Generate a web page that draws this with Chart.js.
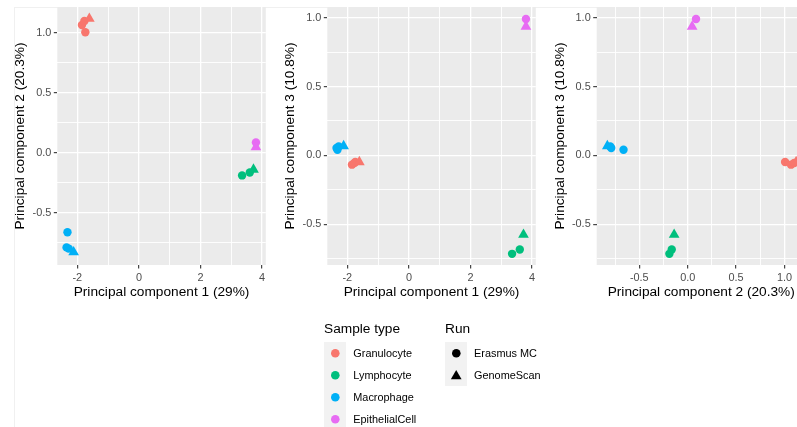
<!DOCTYPE html>
<html>
<head>
<meta charset="utf-8">
<script src="https://cdn.jsdelivr.net/npm/chart.js@4"></script>
<style>
html,body{margin:0;padding:0;width:797px;height:427px;overflow:hidden;background:#fff;position:relative;font-family:"Liberation Sans",Arial,sans-serif;}
.frame{position:absolute;left:14px;top:7px;width:800px;height:430px;border-left:1px solid #F0F0F0;border-top:1px solid #F0F0F0;box-sizing:border-box;}
canvas{position:absolute;top:0;}
.lt{position:absolute;font-size:13.7px;line-height:16px;color:#000;white-space:nowrap;}
.lab{position:absolute;font-size:10.9px;line-height:14px;color:#000;white-space:nowrap;}
.kb{position:absolute;background:#F2F2F2;}
svg.sym{position:absolute;overflow:visible;}
</style>
</head>
<body>
<div class="frame"></div>
<canvas id="p1" width="272" height="305" style="left:0px"></canvas>
<canvas id="p2" width="272" height="305" style="left:270px"></canvas>
<canvas id="p3" width="272" height="305" style="left:540px"></canvas>
<div id="legend"></div>
<script>
// ---- data ----
const categories = ['Granulocyte', 'Lymphocyte', 'Macrophage', 'EpithelialCell'];
const runs = ['Erasmus MC', 'GenomeScan'];
const sampleType = ['Granulocyte','Granulocyte','Granulocyte','Granulocyte',
                    'Lymphocyte','Lymphocyte','Lymphocyte',
                    'Macrophage','Macrophage','Macrophage','Macrophage',
                    'EpithelialCell','EpithelialCell'];
const sampleRun = ['Erasmus MC','Erasmus MC','Erasmus MC','GenomeScan',
                   'Erasmus MC','Erasmus MC','GenomeScan',
                   'Erasmus MC','Erasmus MC','Erasmus MC','GenomeScan',
                   'Erasmus MC','GenomeScan'];
const pc1 = [-1.74, -1.85, -1.77, -1.61,  3.35, 3.60, 3.72,  -2.32, -2.35, -2.28, -2.12,  3.80, 3.80];
const pc2 = [1.006, 1.067, 1.10, 1.12,  -0.189, -0.165, -0.14,  -0.663, -0.79, -0.80, -0.83,  0.086, 0.046];
const pc3 = [-0.048, -0.067, -0.055, -0.048,  -0.714, -0.683, -0.575,  0.041, 0.054, 0.065, 0.068,  0.99, 0.935];

const pc1Ticks = [-2, 0, 2, 4];
const pc1TickLabels = ['-2', '0', '2', '4'];
const pc1Minor = [-1, 1, 3];
const pcSmallTicks = [-0.5, 0, 0.5, 1.0];
const pcSmallTickLabels = ['-0.5', '0.0', '0.5', '1.0'];
const pcSmallMinor = [-0.75, -0.25, 0.25, 0.75];

const titlePC1 = 'Principal component 1 (29%)';
const titlePC2 = 'Principal component 2 (20.3%)';
const titlePC3 = 'Principal component 3 (10.8%)';

// ---- styles ----
const FONT = '"Liberation Sans", Arial, sans-serif';
const PALETTE = ['#F8766D', '#00BF7D', '#00B0F6', '#E76BF3'];
const SHAPES = ['circle', 'triangle'];
const RADII = [4.2, 6.2];

const bgPlugin = {
  id: 'panelBg',
  beforeDraw(chart) {
    const {ctx, chartArea: a} = chart;
    ctx.save();
    ctx.fillStyle = '#EBEBEB';
    ctx.fillRect(a.left, a.top, a.right - a.left, a.bottom - a.top);
    ctx.restore();
  }
};

function axis(pos, min, max, major, labels, minor, title, size) {
  const all = major.concat(minor).sort((a, b) => a - b);
  const isMajor = v => major.some(m => Math.abs(m - v) < 1e-9);
  return {
    type: 'linear', position: pos, min: min, max: max,
    afterBuildTicks: s => { s.ticks = all.map(v => ({value: v})); },
    afterFit: s => {
      if (pos === 'left') s.width = size; else s.height = size;
      s.paddingLeft = 0; s.paddingRight = 0; s.paddingTop = 0; s.paddingBottom = 0;
    },
    grid: {
      color: '#FFFFFF',
      lineWidth: c => (c.tick && isMajor(c.tick.value)) ? 1.3 : 0.9,
      drawTicks: true, tickLength: 3.5, tickWidth: 1.1,
      tickColor: c => (c.tick && isMajor(c.tick.value)) ? '#333333' : 'rgba(0,0,0,0)'
    },
    border: {display: false},
    ticks: {
      autoSkip: false, maxRotation: 0, minRotation: 0, padding: 2.5,
      color: '#4D4D4D', font: {family: FONT, size: 10.9},
      callback: v => { const i = major.findIndex(m => Math.abs(m - v) < 1e-9); return i < 0 ? '' : labels[i]; }
    },
    title: {
      display: true, text: title, color: '#000000',
      font: {family: FONT, size: 13.7, lineHeight: 1.2},
      padding: pos === 'left' ? {top: 11.8, bottom: 0} : {top: 0, bottom: 4.8}
    }
  };
}

function datasets(xv, yv) {
  return categories.map((cat, ci) => {
    const idx = sampleType.map((t, i) => t === cat ? i : -1).filter(i => i >= 0);
    return {
      label: cat,
      data: idx.map(i => ({x: xv[i], y: yv[i]})),
      pointStyle: idx.map(i => SHAPES[runs.indexOf(sampleRun[i])]),
      pointRadius: idx.map(i => RADII[runs.indexOf(sampleRun[i])]),
      backgroundColor: PALETTE[ci],
      borderColor: PALETTE[ci],
      borderWidth: 0,
      clip: false
    };
  });
}

function panel(id, xv, yv, xs, ys, padRight) {
  new Chart(document.getElementById(id), {
    type: 'scatter',
    data: {datasets: datasets(xv, yv)},
    options: {
      responsive: false, animation: false, devicePixelRatio: 1,
      layout: {padding: {top: 7, left: 0, right: padRight, bottom: 0}},
      plugins: {legend: {display: false}, tooltip: {enabled: false}},
      scales: {x: xs, y: ys}
    },
    plugins: [bgPlugin]
  });
}

panel('p1', pc1, pc2,
  axis('bottom', -2.65, 4.12, pc1Ticks, pc1TickLabels, pc1Minor, titlePC1, 40),
  axis('left', -0.937, 1.217, pcSmallTicks, pcSmallTickLabels, pcSmallMinor, titlePC2, 57.3), 2.2);
panel('p2', pc1, pc3,
  axis('bottom', -2.65, 4.12, pc1Ticks, pc1TickLabels, pc1Minor, titlePC1, 40),
  axis('left', -0.795, 1.077, pcSmallTicks, pcSmallTickLabels, pcSmallMinor, titlePC3, 57.3), 2.5);
panel('p3', pc2, pc3,
  axis('bottom', -0.94, 1.22, pcSmallTicks, pcSmallTickLabels, pcSmallMinor, titlePC2, 40),
  axis('left', -0.795, 1.077, pcSmallTicks, pcSmallTickLabels, pcSmallMinor, titlePC3, 56.7), 3.5);

// ---- legend ----
(function () {
  const lg = document.getElementById('legend');
  function add(html) { lg.insertAdjacentHTML('beforeend', html); }
  function circle(cx, cy, r, col) {
    add(`<svg class="sym" style="left:${cx - r}px;top:${cy - r}px" width="${2 * r}" height="${2 * r}"><circle cx="${r}" cy="${r}" r="${r}" fill="${col}"/></svg>`);
  }
  function tri(cx, cy, r, col) {
    const w = r * Math.sqrt(3) / 2;
    add(`<svg class="sym" style="left:${cx - r}px;top:${cy - r}px" width="${2 * r}" height="${2 * r}"><polygon points="${r},0 ${r + w},${1.5 * r} ${r - w},${1.5 * r}" fill="${col}"/></svg>`);
  }
  // Sample type
  add(`<div class="lt" style="left:324px;top:321px">Sample type</div>`);
  add(`<div class="kb" style="left:324px;top:342px;width:22px;height:${22 * categories.length}px"></div>`);
  categories.forEach((c, i) => {
    const cy = 353 + 22 * i;
    circle(335, cy, 4.3, PALETTE[i]);
    add(`<div class="lab" style="left:353.3px;top:${cy - 7}px">${c}</div>`);
  });
  // Run
  add(`<div class="lt" style="left:445px;top:321px">Run</div>`);
  add(`<div class="kb" style="left:445px;top:342px;width:22px;height:${22 * runs.length}px"></div>`);
  runs.forEach((r, i) => {
    const cy = 353 + 22 * i;
    if (SHAPES[i] === 'circle') circle(456, cy, 4.3, '#000'); else tri(456, cy + 1.5, 6.2, '#000');
    add(`<div class="lab" style="left:474px;top:${cy - 7}px">${r}</div>`);
  });
})();
</script>
</body>
</html>
